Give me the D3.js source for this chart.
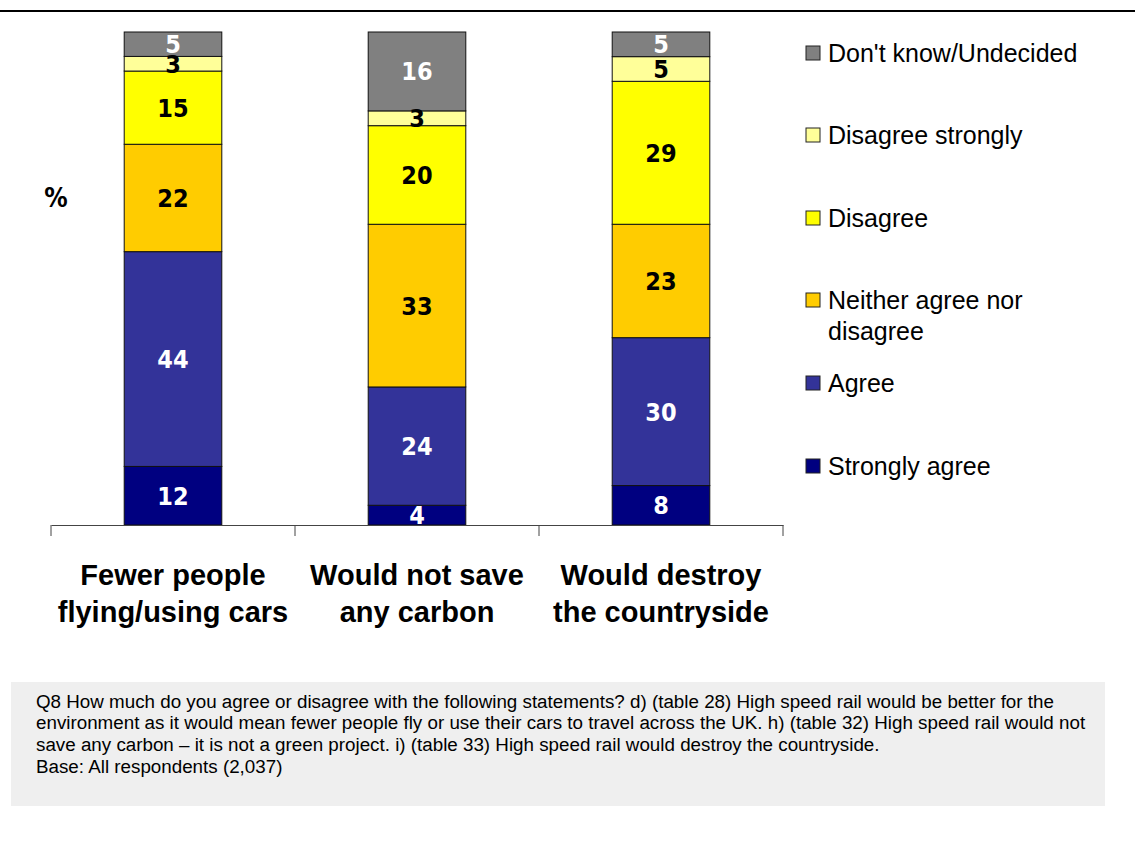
<!DOCTYPE html>
<html>
<head>
<meta charset="utf-8">
<script src="https://cdn.jsdelivr.net/npm/d3@7"></script>
<style>
  html, body { margin: 0; padding: 0; background: #fff; }
  svg { display: block; }
</style>
</head>
<body>
<svg id="chart" width="1135" height="842"></svg>
<script>
// ---- data ----
const categories = ["Fewer people flying/using cars", "Would not save any carbon", "Would destroy the countryside"];
const categoryLines = [["Fewer people", "flying/using cars"], ["Would not save", "any carbon"], ["Would destroy", "the countryside"]];
const seriesNames = ["Strongly agree", "Agree", "Neither agree nor disagree", "Disagree", "Disagree strongly", "Don't know/Undecided"];
const stronglyAgree = [12, 4, 8];
const agree = [44, 24, 30];
const neither = [22, 33, 23];
const disagree = [15, 20, 29];
const disagreeStrongly = [3, 3, 5];
const dontKnow = [5, 16, 5];
const seriesColors = ["#000080", "#333399", "#FFCC00", "#FFFF00", "#FFFF99", "#808080"];
const labelColors = ["#fff", "#fff", "#000", "#000", "#000", "#fff"];
const legendLabels = [["Don't know/Undecided"], ["Disagree strongly"], ["Disagree"], ["Neither agree nor", "disagree"], ["Agree"], ["Strongly agree"]];
const footnoteLines = [
  "Q8 How much do you agree or disagree with the following statements? d) (table 28) High speed rail would be better for the",
  "environment as it would mean fewer people fly or use their cars to travel across the UK. h) (table 32) High speed rail would not",
  "save any carbon \u2013 it is not a green project. i) (table 33) High speed rail would destroy the countryside.",
  "Base: All respondents (2,037)"
];

const seriesValues = [stronglyAgree, agree, neither, disagree, disagreeStrongly, dontKnow];
const rows = categories.map((c, i) => {
  const r = { category: c };
  seriesNames.forEach((s, j) => r[s] = seriesValues[j][i]);
  return r;
});

const svg = d3.select("#chart");

// top rule
svg.append("line").attr("x1", 0).attr("x2", 1135).attr("y1", 11).attr("y2", 11)
  .attr("stroke", "#000").attr("stroke-width", 2);

const x = d3.scaleBand().domain(categories).range([51, 783]).padding(0);
const y = d3.scaleLinear().domain([0, 1]).range([525, 32]);
const barW = x.bandwidth() * 0.4;

const stack = d3.stack().keys(seriesNames).offset(d3.stackOffsetExpand);
const stacked = stack(rows);

const groups = svg.append("g").selectAll("g").data(stacked).join("g")
  .attr("fill", (d, i) => seriesColors[i]);

groups.selectAll("rect").data(d => d).join("rect")
  .attr("x", d => x(d.data.category) + (x.bandwidth() - barW) / 2)
  .attr("width", barW)
  .attr("y", d => y(d[1]))
  .attr("height", d => y(d[0]) - y(d[1]))
  .attr("stroke", "#111")
  .attr("stroke-width", 1);

// value labels
stacked.forEach((s, i) => {
  svg.append("g").selectAll("text").data(s).join("text")
    .attr("x", d => x(d.data.category) + x.bandwidth() / 2)
    .attr("y", d => (y(d[0]) + y(d[1])) / 2)
    .attr("dy", "0.36em")
    .attr("text-anchor", "middle")
    .attr("font-family", "'DejaVu Sans Condensed', 'DejaVu Sans', sans-serif")
    .attr("font-weight", "bold")
    .attr("font-size", 25)
    .attr("fill", labelColors[i])
    .text(d => d.data[s.key]);
});

// x axis
const axis = svg.append("g").attr("transform", "translate(0,525)")
  .call(d3.axisBottom(x).tickValues([]).tickSizeOuter(0));
axis.select(".domain").attr("stroke", "#444");
const tickPos = [51].concat(categories.map(c => x(c) + x.bandwidth()));
axis.selectAll("line.tk").data(tickPos).join("line").attr("class", "tk")
  .attr("x1", d => d).attr("x2", d => d).attr("y1", 0).attr("y2", 11)
  .attr("stroke", "#444");

// category labels
categories.forEach((c, i) => {
  const t = svg.append("text")
    .attr("text-anchor", "middle")
    .attr("font-family", "'Liberation Sans', Arial, sans-serif")
    .attr("font-weight", "bold")
    .attr("font-size", 29)
    .attr("fill", "#000");
  categoryLines[i].forEach((ln, k) => {
    t.append("tspan").attr("x", x(c) + x.bandwidth() / 2).attr("y", 585 + k * 37).text(ln);
  });
});

// % label
svg.append("text").attr("x", 56).attr("y", 207).attr("text-anchor", "middle")
  .attr("font-family", "'DejaVu Sans Condensed', 'DejaVu Sans', sans-serif")
  .attr("font-weight", "bold").attr("font-size", 26).text("%");

// legend
const legendColors = seriesColors.slice().reverse();
const legendBase = [62, 144, 227, 309, 392, 475];
legendLabels.forEach((lines, i) => {
  const g = svg.append("g");
  g.append("rect").attr("x", 806).attr("y", legendBase[i] - 16).attr("width", 14).attr("height", 14)
    .attr("fill", legendColors[i]).attr("stroke", "#222").attr("stroke-width", 1);
  const t = g.append("text").attr("font-family", "'Liberation Sans', Arial, sans-serif")
    .attr("font-size", 25).attr("fill", "#000");
  lines.forEach((ln, k) => {
    t.append("tspan").attr("x", 828).attr("y", legendBase[i] + k * 31).text(ln);
  });
});

// footnote box
svg.append("rect").attr("x", 11).attr("y", 682).attr("width", 1094).attr("height", 124).attr("fill", "#EFEFEF");
const ft = svg.append("text").attr("font-family", "'Liberation Sans', Arial, sans-serif")
  .attr("font-size", 18.8).attr("fill", "#000");
footnoteLines.forEach((ln, k) => {
  ft.append("tspan").attr("x", 36).attr("y", 707.5 + k * 21.8).text(ln);
});
</script>
</body>
</html>
